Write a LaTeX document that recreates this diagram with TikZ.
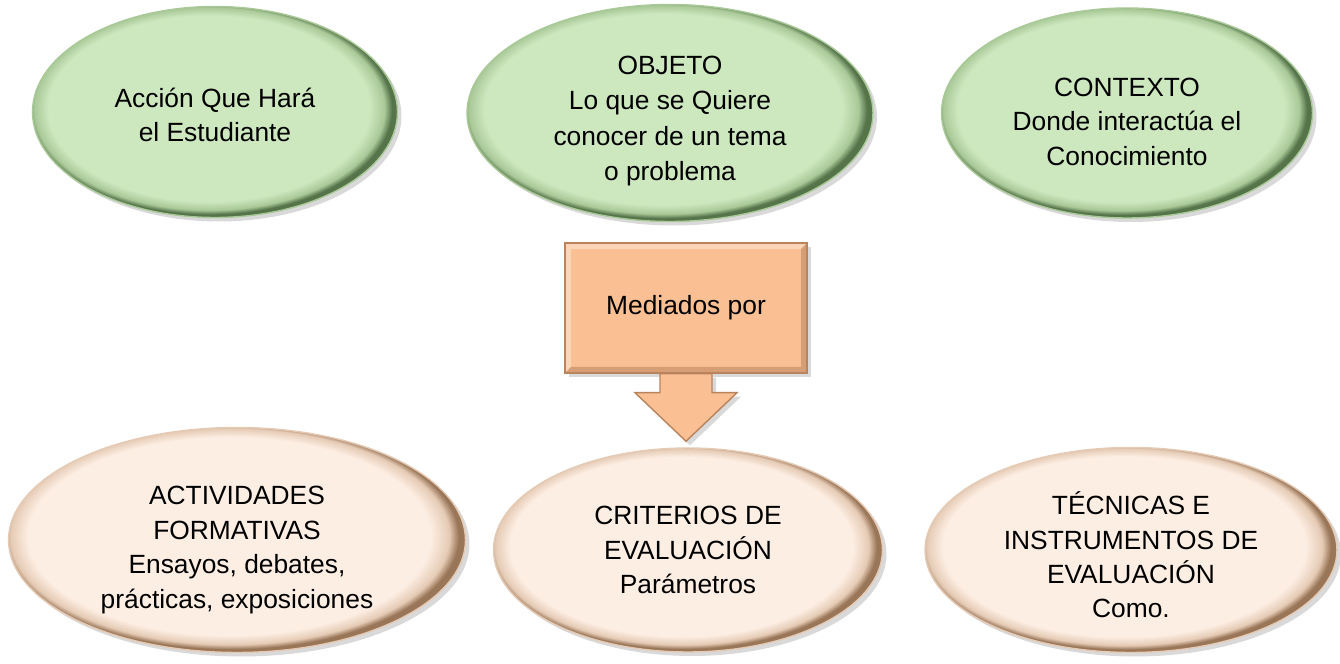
\documentclass[tikz,border=0pt]{standalone}
\usepackage{fontspec}
\setmainfont{Liberation Sans}
\usetikzlibrary{shapes.geometric,shadows}
\definecolor{gfill}{HTML}{CDE8BF}
\definecolor{gmid}{HTML}{A9C998}
\definecolor{gdark}{HTML}{56744A}
\definecolor{pfill}{HTML}{FDEEE3}
\definecolor{pmid}{HTML}{E5CBB5}
\definecolor{pdark}{HTML}{9A7658}
\definecolor{ofill}{HTML}{FABF92}
\definecolor{odark}{HTML}{B9835C}
\pgfdeclareradialshading{greenrim}{\pgfpoint{-1.5bp}{1.5bp}}{color(0bp)=(gfill); color(22bp)=(gfill); color(24bp)=(gmid); color(25bp)=(gdark); color(50bp)=(gdark)}
\pgfdeclareradialshading{peachrim}{\pgfpoint{-1.5bp}{1.5bp}}{color(0bp)=(pfill); color(22bp)=(pfill); color(24bp)=(pmid); color(25bp)=(pdark); color(50bp)=(pdark)}
\tikzset{
  oval/.style={ellipse, inner sep=0pt,
    drop shadow={opacity=0.3, shadow xshift=0.4mm, shadow yshift=-0.4mm}},
  greenoval/.style={oval, shading=greenrim, draw=gmid},
  peachoval/.style={oval, shading=peachrim, draw=pmid},
  ovaltext/.style={align=center, inner sep=0pt,
    font=\fontsize{7.5}{9.8}\selectfont},
  mediabox/.style={rectangle, fill=ofill, draw=odark, inner sep=0pt,
    font=\fontsize{7.5}{9.8}\selectfont,
    drop shadow={opacity=0.3, shadow xshift=0.4mm, shadow yshift=-0.4mm},
    path picture={
      \fill[odark, opacity=0.55] (path picture bounding box.south west)
        -- (path picture bounding box.south east)
        -- (path picture bounding box.north east)
        -- ([xshift=-0.6mm, yshift=-0.6mm]path picture bounding box.north east)
        -- ([xshift=-0.6mm, yshift=0.6mm]path picture bounding box.south east)
        -- ([xshift=0.6mm, yshift=0.6mm]path picture bounding box.south west) -- cycle;
      \fill[white, opacity=0.35] (path picture bounding box.south west)
        -- (path picture bounding box.north west)
        -- (path picture bounding box.north east)
        -- ([xshift=-0.6mm, yshift=-0.6mm]path picture bounding box.north east)
        -- ([xshift=0.6mm, yshift=-0.6mm]path picture bounding box.north west)
        -- ([xshift=0.6mm, yshift=0.6mm]path picture bounding box.south west) -- cycle;
    }},
  mediaarrow/.style={fill=ofill, draw=odark,
    drop shadow={opacity=0.3, shadow xshift=0.4mm, shadow yshift=-0.4mm}}
}
\begin{document}
\begin{tikzpicture}[x=0.1mm, y=-0.1mm]
\useasboundingbox (0,0) rectangle (1340,664);

% top row
\node[greenoval, minimum width=36.5mm, minimum height=21.1mm] (accion) at (215,112) {};
\node[ovaltext] (accion-txt) at ([yshift=-0.3mm]accion.center)
  {Acción Que Hará\\el Estudiante};
\node[greenoval, minimum width=40.6mm, minimum height=21.7mm] (objeto) at (670,113) {};
\node[ovaltext, font=\fontsize{7.5}{10}\selectfont] (objeto-txt) at ([yshift=-0.8mm]objeto.center)
  {OBJETO\\Lo que se Quiere\\conocer de un tema\\o problema};
\node[greenoval, minimum width=37.1mm, minimum height=21mm] (contexto) at (1127,113) {};
\node[ovaltext] (contexto-txt) at ([yshift=-0.85mm]contexto.center)
  {CONTEXTO\\Donde interactúa el\\Conocimiento};

% bottom row
\node[peachoval, minimum width=45.7mm, minimum height=22.5mm] (actividades) at (237,540) {};
\node[ovaltext] (actividades-txt) at ([yshift=-1mm]actividades.center)
  {ACTIVIDADES\\FORMATIVAS\\Ensayos, debates,\\prácticas, exposiciones};
\node[peachoval, minimum width=38.9mm, minimum height=20.4mm] (criterios) at (688,550) {};
\node[ovaltext] (criterios-txt) at (criterios.center)
  {CRITERIOS DE\\EVALUACIÓN\\Parámetros};
\node[peachoval, minimum width=41.2mm, minimum height=20.5mm] (tecnicas) at (1131,550) {};
\node[ovaltext] (tecnicas-txt) at ([yshift=-0.5mm]tecnicas.center)
  {TÉCNICAS E\\INSTRUMENTOS DE\\EVALUACIÓN\\Como.};

% callout
\node[mediabox, minimum width=24.2mm, minimum height=13mm] (mediados) at (686,308)
  {Mediados por};
\path (mediados.south |- criterios.north) ++(0,-6) coordinate (tip);
\filldraw[mediaarrow] ([xshift=-2.6mm]mediados.south)
  -- ([xshift=-2.6mm, yshift=-1.9mm]mediados.south)
  -- ([xshift=-5.1mm, yshift=-1.9mm]mediados.south)
  -- (tip)
  -- ([xshift=5.1mm, yshift=-1.9mm]mediados.south)
  -- ([xshift=2.6mm, yshift=-1.9mm]mediados.south)
  -- ([xshift=2.6mm]mediados.south) -- cycle;

\end{tikzpicture}
\end{document}
